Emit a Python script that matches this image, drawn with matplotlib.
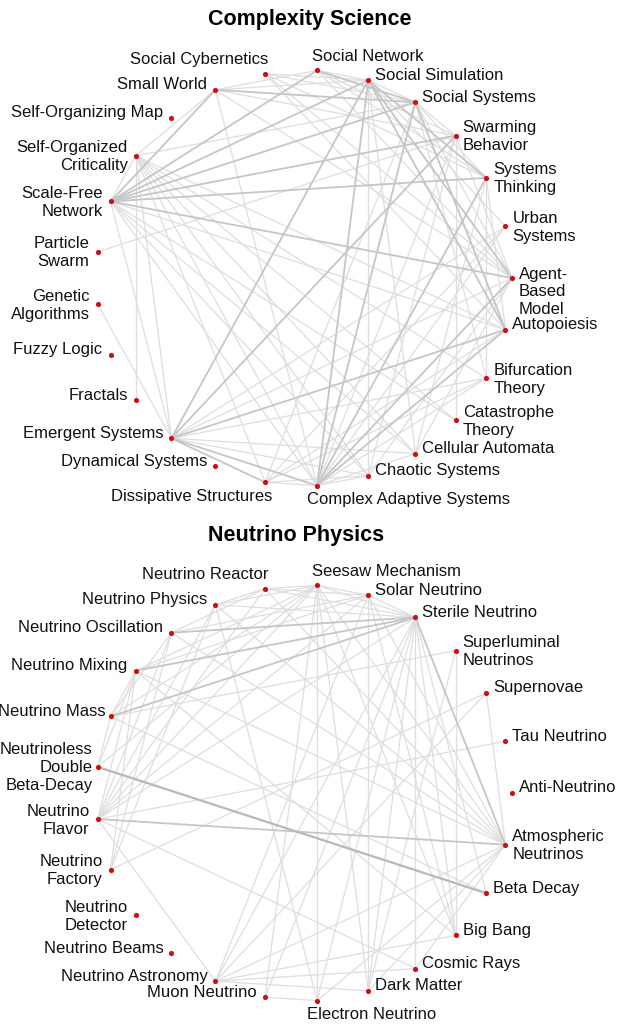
import numpy as np
import matplotlib
matplotlib.use("Agg")
import matplotlib.pyplot as plt

plt.rcParams["font.family"] = ["Liberation Sans", "DejaVu Sans"]

# Nodes are listed clockwise, starting at the rightmost point of each circle.
COMPLEXITY_NODES = [
    "Agent-\nBased\nModel", "Autopoiesis", "Bifurcation\nTheory", "Catastrophe\nTheory",
    "Cellular Automata", "Chaotic Systems", "Complex Adaptive Systems",
    "Dissipative Structures", "Dynamical Systems", "Emergent Systems", "Fractals",
    "Fuzzy Logic", "Genetic\nAlgorithms", "Particle\nSwarm", "Scale-Free\nNetwork",
    "Self-Organized\nCriticality", "Self-Organizing Map", "Small World",
    "Social Cybernetics", "Social Network", "Social Simulation", "Social Systems",
    "Swarming\nBehavior", "Systems\nThinking", "Urban\nSystems",
]

# (node, node, strength) with strength 1 = faint, 2 = stronger
COMPLEXITY_EDGES = [
    ("Scale-Free Network", "Social Network", 2),
    ("Scale-Free Network", "Social Simulation", 2),
    ("Scale-Free Network", "Social Systems", 2),
    ("Scale-Free Network", "Swarming Behavior", 2),
    ("Scale-Free Network", "Systems Thinking", 2),
    ("Scale-Free Network", "Small World", 2),
    ("Scale-Free Network", "Agent-Based Model", 2),
    ("Scale-Free Network", "Autopoiesis", 1),
    ("Scale-Free Network", "Chaotic Systems", 1),
    ("Scale-Free Network", "Cellular Automata", 1),
    ("Scale-Free Network", "Complex Adaptive Systems", 1),
    ("Scale-Free Network", "Emergent Systems", 1),
    ("Scale-Free Network", "Catastrophe Theory", 1),
    ("Scale-Free Network", "Self-Organized Criticality", 1),
    ("Self-Organized Criticality", "Small World", 1),
    ("Self-Organized Criticality", "Social Systems", 1),
    ("Self-Organized Criticality", "Fractals", 1),
    ("Self-Organized Criticality", "Bifurcation Theory", 1),
    ("Self-Organized Criticality", "Catastrophe Theory", 1),
    ("Self-Organized Criticality", "Cellular Automata", 1),
    ("Self-Organized Criticality", "Chaotic Systems", 1),
    ("Self-Organized Criticality", "Complex Adaptive Systems", 1),
    ("Self-Organized Criticality", "Dissipative Structures", 1),
    ("Self-Organized Criticality", "Emergent Systems", 1),
    ("Self-Organized Criticality", "Autopoiesis", 1),
    ("Small World", "Social Network", 1),
    ("Small World", "Social Simulation", 1),
    ("Small World", "Social Systems", 2),
    ("Small World", "Swarming Behavior", 1),
    ("Small World", "Complex Adaptive Systems", 1),
    ("Small World", "Agent-Based Model", 1),
    ("Social Cybernetics", "Social Systems", 1),
    ("Social Cybernetics", "Social Simulation", 1),
    ("Social Cybernetics", "Agent-Based Model", 1),
    ("Social Cybernetics", "Autopoiesis", 1),
    ("Social Cybernetics", "Systems Thinking", 1),
    ("Social Network", "Social Simulation", 1),
    ("Social Network", "Social Systems", 2),
    ("Social Network", "Swarming Behavior", 1),
    ("Social Network", "Agent-Based Model", 1),
    ("Social Network", "Systems Thinking", 1),
    ("Social Simulation", "Complex Adaptive Systems", 2),
    ("Social Simulation", "Emergent Systems", 2),
    ("Social Simulation", "Agent-Based Model", 2),
    ("Social Simulation", "Autopoiesis", 2),
    ("Social Simulation", "Cellular Automata", 1),
    ("Social Simulation", "Urban Systems", 1),
    ("Social Simulation", "Systems Thinking", 2),
    ("Social Simulation", "Social Systems", 1),
    ("Social Simulation", "Chaotic Systems", 1),
    ("Social Systems", "Autopoiesis", 2),
    ("Social Systems", "Agent-Based Model", 1),
    ("Social Systems", "Complex Adaptive Systems", 2),
    ("Social Systems", "Dissipative Structures", 1),
    ("Social Systems", "Swarming Behavior", 1),
    ("Social Systems", "Systems Thinking", 1),
    ("Social Systems", "Bifurcation Theory", 1),
    ("Swarming Behavior", "Particle Swarm", 1),
    ("Swarming Behavior", "Emergent Systems", 2),
    ("Swarming Behavior", "Complex Adaptive Systems", 1),
    ("Swarming Behavior", "Agent-Based Model", 1),
    ("Swarming Behavior", "Chaotic Systems", 1),
    ("Swarming Behavior", "Catastrophe Theory", 1),
    ("Systems Thinking", "Complex Adaptive Systems", 2),
    ("Systems Thinking", "Autopoiesis", 1),
    ("Systems Thinking", "Bifurcation Theory", 1),
    ("Systems Thinking", "Cellular Automata", 1),
    ("Urban Systems", "Dissipative Structures", 1),
    ("Urban Systems", "Complex Adaptive Systems", 1),
    ("Urban Systems", "Emergent Systems", 1),
    ("Agent-Based Model", "Complex Adaptive Systems", 2),
    ("Agent-Based Model", "Cellular Automata", 1),
    ("Agent-Based Model", "Chaotic Systems", 1),
    ("Agent-Based Model", "Emergent Systems", 1),
    ("Autopoiesis", "Emergent Systems", 2),
    ("Autopoiesis", "Complex Adaptive Systems", 2),
    ("Autopoiesis", "Dissipative Structures", 1),
    ("Bifurcation Theory", "Emergent Systems", 1),
    ("Bifurcation Theory", "Complex Adaptive Systems", 1),
    ("Bifurcation Theory", "Dissipative Structures", 1),
    ("Emergent Systems", "Genetic Algorithms", 1),
    ("Emergent Systems", "Dissipative Structures", 2),
    ("Emergent Systems", "Complex Adaptive Systems", 2),
    ("Emergent Systems", "Chaotic Systems", 1),
    ("Emergent Systems", "Cellular Automata", 1),
    ("Dissipative Structures", "Complex Adaptive Systems", 1),
    ("Dissipative Structures", "Chaotic Systems", 1),
    ("Complex Adaptive Systems", "Chaotic Systems", 1),
    ("Complex Adaptive Systems", "Cellular Automata", 1),
]

NEUTRINO_NODES = [
    "Anti-Neutrino", "Atmospheric\nNeutrinos", "Beta Decay", "Big Bang", "Cosmic Rays",
    "Dark Matter", "Electron Neutrino", "Muon Neutrino", "Neutrino Astronomy",
    "Neutrino Beams", "Neutrino\nDetector", "Neutrino\nFactory", "Neutrino\nFlavor",
    "Neutrinoless\nDouble\nBeta-Decay", "Neutrino Mass", "Neutrino Mixing",
    "Neutrino Oscillation", "Neutrino Physics", "Neutrino Reactor", "Seesaw Mechanism",
    "Solar Neutrino", "Sterile Neutrino", "Superluminal\nNeutrinos", "Supernovae",
    "Tau Neutrino",
]

NEUTRINO_EDGES = [
    ("Neutrinoless Double Beta-Decay", "Beta Decay", 3),
    ("Neutrino Mixing", "Sterile Neutrino", 2),
    ("Neutrino Mass", "Sterile Neutrino", 2),
    ("Neutrino Oscillation", "Sterile Neutrino", 2),
    ("Neutrino Flavor", "Atmospheric Neutrinos", 2),
    ("Sterile Neutrino", "Atmospheric Neutrinos", 2),
    ("Neutrino Flavor", "Sterile Neutrino", 1),
    ("Neutrino Flavor", "Solar Neutrino", 1),
    ("Neutrino Flavor", "Seesaw Mechanism", 1),
    ("Neutrino Flavor", "Neutrino Reactor", 1),
    ("Neutrino Flavor", "Neutrino Physics", 1),
    ("Neutrino Flavor", "Neutrino Oscillation", 1),
    ("Neutrino Flavor", "Neutrino Mixing", 1),
    ("Neutrino Flavor", "Neutrino Astronomy", 1),
    ("Neutrino Flavor", "Tau Neutrino", 1),
    ("Neutrino Flavor", "Cosmic Rays", 1),
    ("Neutrino Mixing", "Neutrino Factory", 1),
    ("Neutrino Mixing", "Neutrinoless Double Beta-Decay", 1),
    ("Neutrino Mixing", "Neutrino Mass", 1),
    ("Neutrino Mixing", "Big Bang", 1),
    ("Neutrino Mixing", "Seesaw Mechanism", 1),
    ("Neutrino Mixing", "Solar Neutrino", 1),
    ("Neutrino Mixing", "Atmospheric Neutrinos", 1),
    ("Neutrino Mass", "Seesaw Mechanism", 1),
    ("Neutrino Mass", "Beta Decay", 1),
    ("Neutrino Mass", "Neutrino Oscillation", 1),
    ("Neutrino Mass", "Neutrinoless Double Beta-Decay", 1),
    ("Neutrino Oscillation", "Solar Neutrino", 1),
    ("Neutrino Oscillation", "Atmospheric Neutrinos", 1),
    ("Neutrino Oscillation", "Neutrino Reactor", 1),
    ("Neutrino Physics", "Neutrino Reactor", 1),
    ("Neutrino Physics", "Seesaw Mechanism", 1),
    ("Neutrino Physics", "Sterile Neutrino", 1),
    ("Neutrino Physics", "Atmospheric Neutrinos", 1),
    ("Neutrino Physics", "Electron Neutrino", 1),
    ("Neutrino Reactor", "Seesaw Mechanism", 1),
    ("Neutrino Reactor", "Solar Neutrino", 1),
    ("Neutrino Reactor", "Sterile Neutrino", 1),
    ("Neutrino Reactor", "Atmospheric Neutrinos", 1),
    ("Seesaw Mechanism", "Solar Neutrino", 1),
    ("Seesaw Mechanism", "Sterile Neutrino", 1),
    ("Seesaw Mechanism", "Dark Matter", 1),
    ("Seesaw Mechanism", "Muon Neutrino", 1),
    ("Seesaw Mechanism", "Electron Neutrino", 1),
    ("Seesaw Mechanism", "Big Bang", 1),
    ("Seesaw Mechanism", "Atmospheric Neutrinos", 1),
    ("Solar Neutrino", "Sterile Neutrino", 1),
    ("Solar Neutrino", "Dark Matter", 1),
    ("Solar Neutrino", "Atmospheric Neutrinos", 1),
    ("Solar Neutrino", "Neutrino Astronomy", 1),
    ("Solar Neutrino", "Big Bang", 1),
    ("Sterile Neutrino", "Big Bang", 1),
    ("Sterile Neutrino", "Cosmic Rays", 1),
    ("Sterile Neutrino", "Dark Matter", 1),
    ("Sterile Neutrino", "Electron Neutrino", 1),
    ("Sterile Neutrino", "Muon Neutrino", 1),
    ("Sterile Neutrino", "Neutrino Astronomy", 1),
    ("Sterile Neutrino", "Beta Decay", 1),
    ("Superluminal Neutrinos", "Big Bang", 1),
    ("Superluminal Neutrinos", "Dark Matter", 1),
    ("Superluminal Neutrinos", "Neutrino Mass", 1),
    ("Supernovae", "Neutrino Astronomy", 1),
    ("Supernovae", "Neutrino Factory", 1),
    ("Supernovae", "Atmospheric Neutrinos", 1),
    ("Atmospheric Neutrinos", "Neutrino Astronomy", 1),
    ("Atmospheric Neutrinos", "Dark Matter", 1),
    ("Atmospheric Neutrinos", "Cosmic Rays", 1),
    ("Atmospheric Neutrinos", "Electron Neutrino", 1),
    ("Big Bang", "Neutrino Astronomy", 1),
    ("Cosmic Rays", "Neutrino Astronomy", 1),
    ("Dark Matter", "Neutrino Astronomy", 1),
    ("Muon Neutrino", "Electron Neutrino", 1),
    ("Neutrino Factory", "Neutrino Physics", 1),
    ("Neutrino Factory", "Neutrino Oscillation", 1),
    ("Neutrinoless Double Beta-Decay", "Seesaw Mechanism", 1),
]

EDGE_STYLE = {1: ("#dedede", 0.9), 2: ("#c6c6c6", 1.3), 3: ("#b8b8b8", 1.6)}
NODE_COLOR = "#cc1111"
LABEL_SIDE = {"Muon Neutrino": "left"}
LABEL_NUDGE_Y = {"Agent-Based Model": 13}
LABEL_NUDGE_X = {"Neutrino Mass": 3, "Neutrinoless Double Beta-Decay": 3}

W, H = 617, 1025
RADIUS = 208


def key_of(label):
    return label.replace("-\n", "-").replace("\n", " ")


def draw_network(ax, title, nodes, edges, cx, cy, title_xy):
    n = len(nodes)
    theta = -2 * np.pi * np.arange(n) / n
    xs = cx + RADIUS * np.cos(theta)
    ys = cy - RADIUS * np.sin(theta)
    idx = {key_of(lab): i for i, lab in enumerate(nodes)}

    for a, b, w in sorted(edges, key=lambda e: e[2]):
        i, j = idx[a], idx[b]
        color, lw = EDGE_STYLE[w]
        ax.plot([xs[i], xs[j]], [ys[i], ys[j]], color=color, lw=lw,
                solid_capstyle="round", zorder=w)

    ax.scatter(xs, ys, s=14, color=NODE_COLOR, linewidths=0, zorder=10)

    for i, lab in enumerate(nodes):
        c, s = np.cos(theta[i]), np.sin(theta[i])
        key = key_of(lab)
        if key in LABEL_SIDE:
            side = LABEL_SIDE[key]
        elif abs(c) < 0.2:
            side = "above" if s > 0 else "below"
        else:
            side = "right" if c > 0 else "left"
        multi = "\n" in lab
        x, y = xs[i], ys[i]
        if side == "right":
            tx, ty, ha = x + 7, y + (1 if multi else -5), "left"
        elif side == "left":
            tx, ty, ha = x - 8, y + (1 if multi else -5), "right"
        elif side == "above":
            ha = "left" if c > 0 else "right"
            tx, ty = (x - 5 if c > 0 else x + 3), y - 14
        else:
            ha = "left" if c > 0 else "right"
            tx, ty = (x - 10 if c > 0 else x + 7), y + 14
        tx += LABEL_NUDGE_X.get(key, 0)
        ty += LABEL_NUDGE_Y.get(key, 0)
        ax.text(tx, ty, lab, ha=ha, va="center", multialignment=ha,
                fontsize=12, color="#111111", linespacing=1.25, zorder=11)

    ax.text(title_xy[0], title_xy[1], title, ha="center", va="center",
            fontsize=15.5, fontweight="bold", color="#000000")


fig = plt.figure(figsize=(W / 100, H / 100), dpi=100)
ax = fig.add_axes([0, 0, 1, 1])
ax.set_xlim(0, W)
ax.set_ylim(H, 0)
ax.axis("off")

draw_network(ax, "Complexity Science", COMPLEXITY_NODES, COMPLEXITY_EDGES,
             304, 278, (310, 20))
draw_network(ax, "Neutrino Physics", NEUTRINO_NODES, NEUTRINO_EDGES,
             304, 793, (296, 535))

fig.savefig("out.png", dpi=100, facecolor="white")
